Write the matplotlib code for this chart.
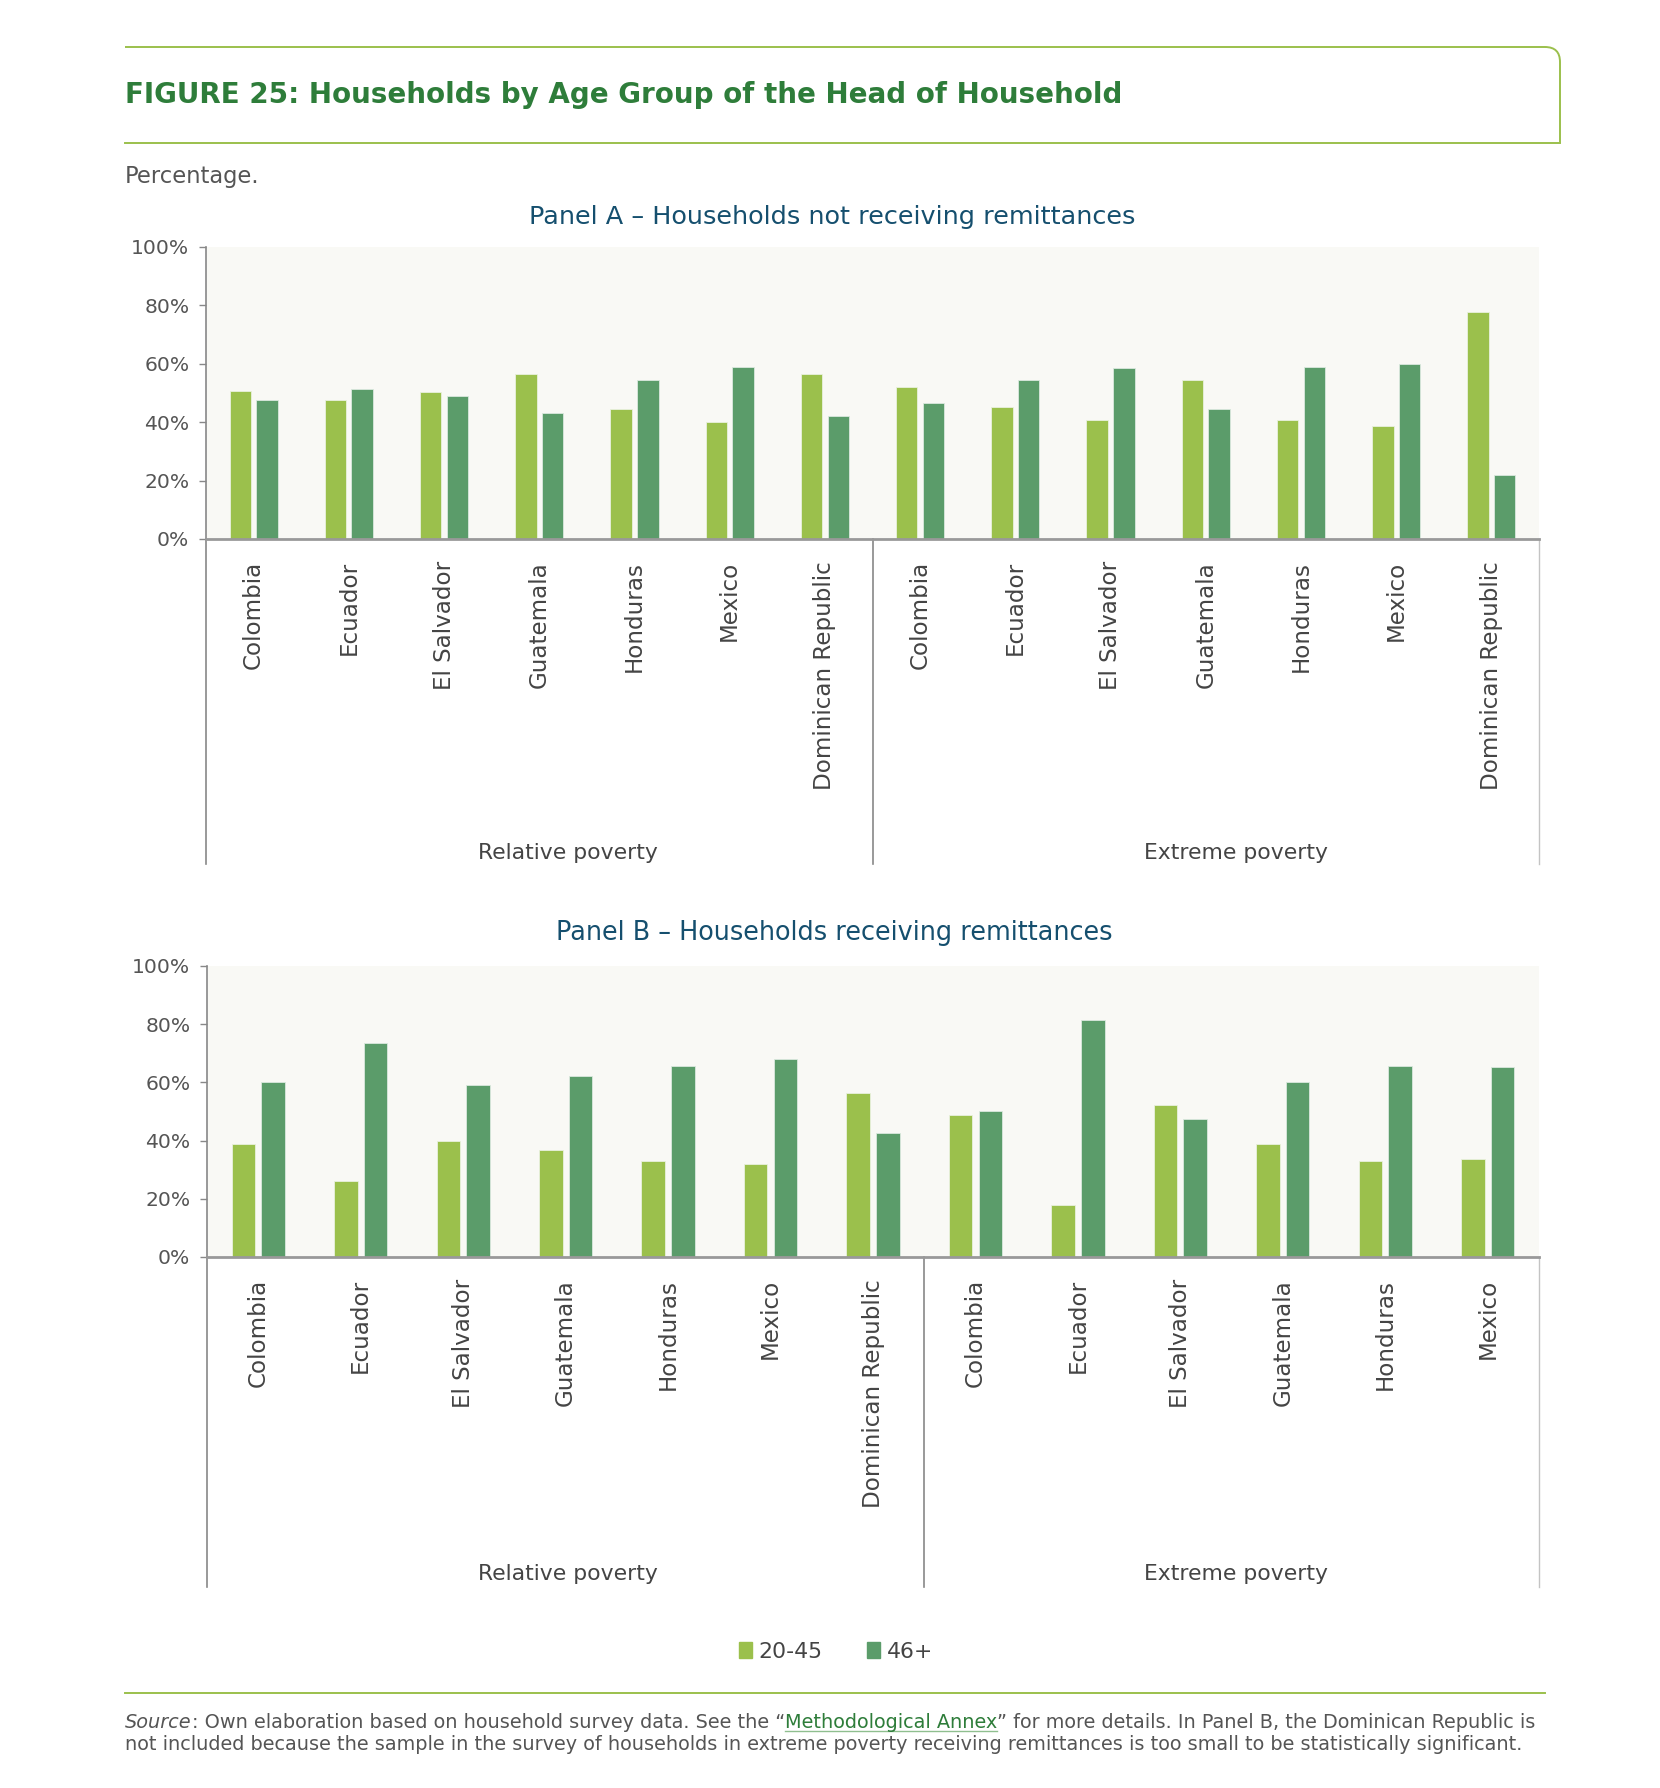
import matplotlib
matplotlib.use("Agg")
import matplotlib.pyplot as plt
import numpy as np
from matplotlib.font_manager import FontProperties
from matplotlib.path import Path
from matplotlib.patches import PathPatch, Patch
import matplotlib.transforms as mtransforms

FONT = "DejaVu Sans"
plt.rcParams['font.family'] = [FONT]

# ---------------- data ----------------
countries_full = ["Colombia", "Ecuador", "El Salvador", "Guatemala",
                  "Honduras", "Mexico", "Dominican Republic"]
countries_b_ext = ["Colombia", "Ecuador", "El Salvador", "Guatemala",
                   "Honduras", "Mexico"]
group_names = ["Relative poverty", "Extreme poverty"]
series_names = ["20-45", "46+"]

a_rel_young = [50.8, 47.6, 50.2, 56.5, 44.5, 40.1, 56.5]
a_rel_old = [47.6, 51.5, 49.0, 43.3, 54.6, 59.0, 42.0]
a_ext_young = [52.0, 45.1, 40.8, 54.6, 40.8, 38.8, 77.9]
a_ext_old = [46.5, 54.6, 58.4, 44.5, 59.0, 60.1, 21.9]

b_rel_young = [38.7, 26.2, 40.0, 36.9, 33.1, 31.9, 56.5]
b_rel_old = [60.1, 73.4, 59.0, 62.1, 65.8, 67.9, 42.5]
b_ext_young = [48.9, 17.9, 52.1, 38.9, 33.1, 33.7]
b_ext_old = [50.1, 81.6, 47.5, 60.2, 65.8, 65.3]

yticks = [0, 20, 40, 60, 80, 100]

TITLE = "FIGURE 25: Households by Age Group of the Head of Household"
SUBTITLE = "Percentage."
PANEL_A = "Panel A \u2013 Households not receiving remittances"
PANEL_B = "Panel B \u2013 Households receiving remittances"

# ---------------- style ----------------
C_YOUNG = "#9BC04C"
C_OLD = "#5B9C6A"
C_TITLE = "#2E7D3A"
C_PANEL = "#154F6E"
C_LINE = "#9BC04C"
C_TEXT = "#555555"
C_BG = "#F9F9F5"

W, H = 1660, 1788
fig = plt.figure(figsize=(W / 100, H / 100), dpi=100)
renderer = fig.canvas.get_renderer()


def fs_for(s, px, weight="normal", style="normal"):
    prop = FontProperties(family=FONT, weight=weight, style=style, size=20)
    w, h, d = renderer.get_text_width_height_descent(s, prop, ismath=False)
    return 20 * px / w


ax0 = fig.add_axes([0, 0, 1, 1], zorder=0)
ax0.set_xlim(0, W)
ax0.set_ylim(H, 0)
ax0.axis("off")

# header box
verts = [(125, 47), (1545, 47), (1560, 47), (1560, 62), (1560, 143)]
codes = [Path.MOVETO, Path.LINETO, Path.CURVE3, Path.CURVE3, Path.LINETO]
ax0.add_patch(PathPatch(Path(verts, codes), fill=False, edgecolor=C_LINE, lw=1.4))
ax0.plot([125, 1560], [143, 143], color=C_LINE, lw=1.4)

ax0.text(125, 95, TITLE, fontsize=fs_for(TITLE, 997, "bold"), weight="bold",
         color=C_TITLE, va="center", ha="left")
ax0.text(125, 177, SUBTITLE, fontsize=fs_for(SUBTITLE, 134), color=C_TEXT,
         va="center", ha="left")
ax0.text(832, 217, PANEL_A, fontsize=fs_for(PANEL_A, 606), color=C_PANEL,
         va="center", ha="center")
ax0.text(834, 933, PANEL_B, fontsize=fs_for(PANEL_B, 557), color=C_PANEL,
         va="center", ha="center")

country_fs = fs_for("Dominican Republic", 229)
group_fs = fs_for("Relative poverty", 179)
ytick_fs = fs_for("100%", 58)
legend_fs = fs_for("20-45", 64)


def rect(l, r, t, b):
    return [l / W, 1 - b / H, (r - l) / W, (b - t) / H]


def panel(px, groups, bar_w, off, ext, label_y, label_px):
    l, r, t, b = px
    ax = fig.add_axes(rect(l, r, t, b), zorder=2)
    labels, young, old, bounds = [], [], [], [0]
    for names, y, o in groups:
        labels += names
        young += y
        old += o
        bounds.append(len(labels))
    x = np.arange(len(labels)) + 0.5
    ax.bar(x - off, young, bar_w, color=C_YOUNG, edgecolor="#e9f1dd", linewidth=0.6,
           label=series_names[0], zorder=3)
    ax.bar(x + off, old, bar_w, color=C_OLD, edgecolor="#dbe9de", linewidth=0.6,
           label=series_names[1], zorder=3)
    ax.set_xlim(0, len(labels))
    ax.set_ylim(0, 100)
    ax.set_facecolor(C_BG)
    ax.set_xticks(x)
    ax.set_xticklabels(labels, rotation=90, fontsize=country_fs, color="#444444")
    ax.tick_params(axis="x", length=0, pad=16)
    ax.set_yticks(yticks)
    ax.set_yticklabels([f"{v}%" for v in yticks])
    ax.tick_params(axis="y", length=5, width=1, color="#888888", pad=7,
                   labelsize=ytick_fs, labelcolor=C_TEXT)
    for s in ("top", "right"):
        ax.spines[s].set_visible(False)
    ax.spines["left"].set_color("#888888")
    ax.spines["left"].set_linewidth(1.2)
    ax.spines["bottom"].set_color("#999999")
    ax.spines["bottom"].set_linewidth(2)
    ax.spines["bottom"].set_zorder(4)
    tr = ax.get_xaxis_transform()
    ax.plot([0, 0], [0, ext], transform=tr, clip_on=False, color="#888888", lw=1.2)
    ax.plot([bounds[1]] * 2, [0, ext], transform=tr, clip_on=False, color="#888888", lw=1.2)
    ax.plot([bounds[-1]] * 2, [0, ext], transform=tr, clip_on=False, color="#c4c4c4", lw=1.0)
    cat_px = (r - l) / len(labels)
    for i, gname in enumerate(group_names):
        gx = (label_px[i] - l) / cat_px
        ax.text(gx, label_y, gname, transform=tr,
                ha="center", va="center", fontsize=group_fs, color="#444444")
    return ax


axA = panel((206, 1539, 247, 539),
            [(countries_full, a_rel_young, a_rel_old),
             (countries_full, a_ext_young, a_ext_old)],
            0.225, 0.14, -325 / 292, -(853 - 539) / 292, (568, 1236))

axB = panel((207, 1539, 966, 1257),
            [(countries_full, b_rel_young, b_rel_old),
             (countries_b_ext, b_ext_young, b_ext_old)],
            0.23, 0.145, -330 / 291, -(1574 - 1257) / 291, (568, 1236))

handles = [Patch(color=C_YOUNG, label=series_names[0]),
           Patch(color=C_OLD, label=series_names[1])]
fig.legend(handles=handles, loc="center", bbox_to_anchor=(836 / W, 1 - 1652 / H),
           ncol=2, frameon=False, handlelength=0.6, handleheight=0.75,
           handletextpad=0.3, columnspacing=2.0, fontsize=legend_fs,
           labelcolor="#444444")

# footer
ax0.plot([125, 1545], [1693, 1693], color=C_LINE, lw=1.4)
pieces = [("Source", "italic", C_TEXT),
          (": Own elaboration based on household survey data. See the \u201c", "normal", C_TEXT),
          ("Methodological Annex", "normal", C_TITLE),
          ("\u201d for more details. In Panel B, the Dominican Republic is", "normal", C_TEXT)]
tot = 0
for s, st, c in pieces:
    prop = FontProperties(family=FONT, style=st, size=20)
    tot += renderer.get_text_width_height_descent(s, prop, ismath=False)[0]
src_fs = 20 * 1413 / tot
texts = []
prev = None
for s, st, c in pieces:
    if prev is None:
        t = ax0.text(125, 1722, s, style=st, color=c, fontsize=src_fs,
                     va="center", ha="left")
    else:
        t = ax0.annotate(s, xy=(1, 0), xycoords=prev, style=st, color=c,
                         fontsize=src_fs, va="bottom", ha="left")
    texts.append(t)
    prev = t
line2 = ("not included because the sample in the survey of households in extreme "
         "poverty receiving remittances is too small to be statistically significant.")
ax0.text(125, 1744, line2, fontsize=src_fs, color=C_TEXT, va="center", ha="left")

fig.canvas.draw()
bb = texts[2].get_window_extent(renderer)
inv = ax0.transData.inverted()
(ux0, uy0) = inv.transform((bb.x0, bb.y0))
(ux1, _) = inv.transform((bb.x1, bb.y0))
ax0.plot([ux0, ux1], [uy0 - 1, uy0 - 1], color="#8fbf8f", lw=1.0)

fig.savefig("out.png", dpi=100)
